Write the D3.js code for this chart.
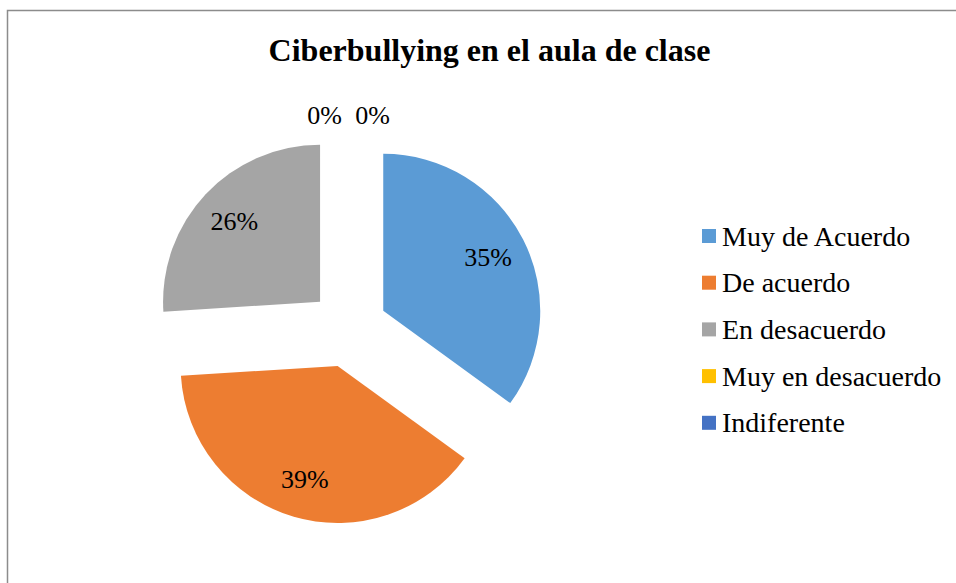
<!DOCTYPE html>
<html>
<head>
<meta charset="utf-8">
<script src="https://cdn.jsdelivr.net/npm/d3@7"></script>
<style>
    body { margin: 0; background: white; }
    svg { display: block; font-family: "Liberation Serif", "Times New Roman", serif; }
</style>
</head>
<body>
<div id="chart-container"></div>
<script>
const categories = ['Muy de Acuerdo', 'De acuerdo', 'En desacuerdo', 'Muy en desacuerdo', 'Indiferente']
const values = [35, 39, 26, 0, 0]
const colours = ['#5B9BD5', '#ED7D31', '#A5A5A5', '#FFC000', '#4472C4']
const title = 'Ciberbullying en el aula de clase'

const width = 956
const height = 583
const cx = 348.5
const cy = 328.5
const radius = 157
const explode = 39

const svg = d3.select('#chart-container')
    .append('svg')
    .attr('id', 'chart-svg')
    .attr('width', width)
    .attr('height', height)

// chart border (runs off the right and bottom of the picture)
svg.append('rect')
    .attr('x', 7.5)
    .attr('y', 10.5)
    .attr('width', 1000)
    .attr('height', 700)
    .attr('fill', 'white')
    .attr('stroke', '#8c8c8c')
    .attr('stroke-width', 1.5)

svg.append('text')
    .attr('x', 489.5)
    .attr('y', 61)
    .attr('text-anchor', 'middle')
    .style('font-size', '32px')
    .style('font-weight', 'bold')
    .text(title)

const data = categories.map((c, i) => ({ category: c, value: values[i], colour: colours[i] }))

const pie = d3.pie().sort(null).value(d => d.value)
const arcs = pie(data)

const arc = d3.arc().innerRadius(0).outerRadius(radius)
const labelArc = d3.arc().innerRadius(radius * 0.75).outerRadius(radius * 0.75)
const outsideArc = d3.arc().innerRadius(radius + explode + 17).outerRadius(radius + explode + 17)

const offset = d => {
    const mid = (d.startAngle + d.endAngle) / 2
    return [Math.sin(mid) * explode, -Math.cos(mid) * explode]
}

const chart = svg.append('g')
    .attr('transform', `translate(${cx},${cy})`)

chart.selectAll('.slice')
    .data(arcs.filter(d => d.value > 0))
    .join('path')
    .attr('class', 'slice')
    .attr('d', arc)
    .attr('fill', d => d.data.colour)
    .attr('transform', d => `translate(${offset(d)})`)

let zeroIdx = 0
const zeroCount = arcs.filter(d => d.value === 0).length
chart.selectAll('.label')
    .data(arcs)
    .join('text')
    .attr('class', 'label')
    .attr('text-anchor', 'middle')
    .attr('dominant-baseline', 'central')
    .style('font-size', '26px')
    .attr('transform', d => {
        if (d.value === 0) {
            const [x, y] = outsideArc.centroid(d)
            const shift = (zeroIdx++ - (zeroCount - 1) / 2) * 48
            return `translate(${x + shift},${y})`
        }
        const [x, y] = labelArc.centroid(d)
        const [ox, oy] = offset(d)
        return `translate(${x + ox},${y + oy})`
    })
    .text(d => `${Math.round(d.value)}%`)

const legend = svg.append('g')
    .attr('transform', 'translate(702,236)')

const rows = legend.selectAll('.legend-row')
    .data(data)
    .join('g')
    .attr('class', 'legend-row')
    .attr('transform', (d, i) => `translate(0,${i * 46.7})`)

rows.append('rect')
    .attr('x', 0)
    .attr('y', -7)
    .attr('width', 14)
    .attr('height', 14)
    .attr('fill', d => d.colour)

rows.append('text')
    .attr('x', 20)
    .attr('y', 0)
    .attr('dominant-baseline', 'central')
    .style('font-size', '28px')
    .text(d => d.category)
</script>
</body>
</html>
